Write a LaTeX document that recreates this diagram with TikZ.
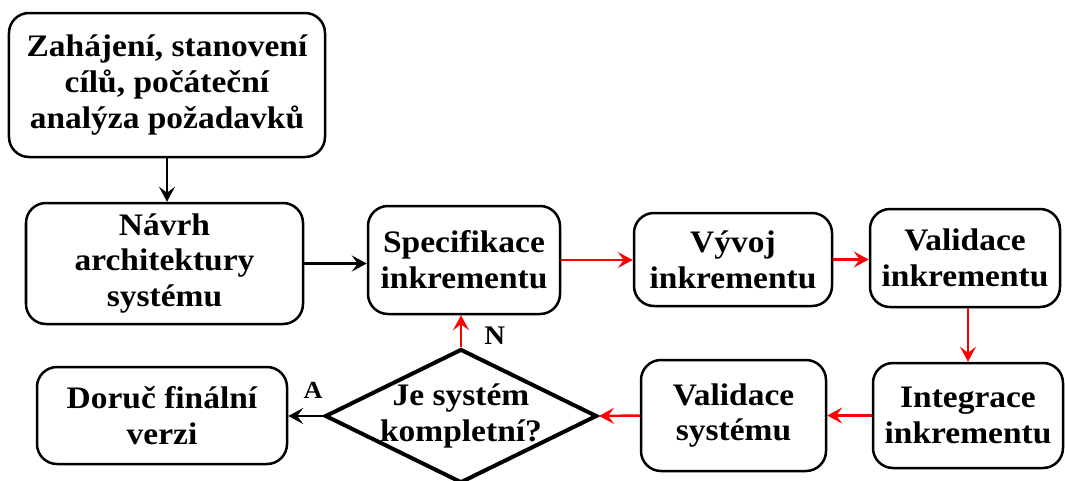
\documentclass[tikz,border=0pt]{standalone}
\usepackage{fontspec}
\setmainfont{Liberation Serif}[FakeStretch=1.07]
\usetikzlibrary{shapes.geometric}
\usetikzlibrary{arrows.meta}

\begin{document}
\begin{tikzpicture}[>={Stealth[length=0.3cm, width=0.32cm, inset=0.12cm]}, line width = 0.05cm,
	krok/.style = {draw, rounded corners = 0.4cm, align = center, inner sep = 0pt,
		font = \fontsize{17.8}{20.4}\selectfont\bfseries},
	rozhod/.style = {draw, diamond, line width = 0.08cm, align = center,
		inner xsep = -0.4cm, inner ysep = 0pt, shape aspect = 2.03,
		font = \fontsize{17.8}{20.4}\selectfont\bfseries},
	znacka/.style = {inner sep = 0.1cm, text = black, font = \fontsize{15.3}{18}\selectfont\bfseries}]
	%%%	Help Lines
%	\draw [thin, help lines] (0,0) grid (21.3,9.6);
	\useasboundingbox (0,0) rectangle (21.3,9.6);
	%%%	Kroky
	\node [krok, minimum width = 6.32cm, minimum height = 2.88cm] (start) at (3.34, 7.90)
		{Zahájení, stanovení\\cílů, počáteční\\analýza požadavků};
	\node [krok, minimum width = 5.54cm, minimum height = 2.42cm] (arch) at (3.29, 4.33)
		{Návrh\\architektury\\systému};
	\node [krok, minimum width = 3.84cm, minimum height = 2.16cm] (spec) at (9.28, 4.40)
		{Specifikace\\inkrementu};
	\node [krok, minimum width = 3.96cm, minimum height = 1.86cm] (vyvoj) at (14.66, 4.41)
		{Vývoj\\inkrementu};
	\node [krok, minimum width = 3.80cm, minimum height = 1.96cm] (valinc) at (19.30, 4.44)
		{Validace\\inkrementu};
	\node [krok, minimum width = 3.80cm, minimum height = 2.10cm] (integ) at (19.36, 1.29)
		{Integrace\\inkrementu};
	\node [krok, minimum width = 3.70cm, minimum height = 2.22cm] (valsys) at (14.67, 1.29)
		{Validace\\systému};
	\node [rozhod, minimum width = 5.44cm, minimum height = 2.68cm] (check) at (9.22, 1.28)
		{Je systém\\kompletní?};
	\node [krok, minimum width = 5.00cm, minimum height = 1.94cm] (dodat) at (3.24, 1.29)
		{Doruč finální\\verzi};
	%%%	Sipky
	\draw[->] (start.south) -- (start.south |- arch.north);
	\draw[->] (arch.east) -- (spec.west |- arch.east);
	\draw[->, red] (spec.east) -- (vyvoj.west |- spec.east);
	\draw[->, red] (vyvoj.east) -- (valinc.west |- vyvoj.east);
	\draw[->, red] (integ.north |- valinc.south) -- (integ.north);
	\draw[->, red] (integ.west) -- (valsys.east |- integ.west);
	\draw[->, red] (valsys.west) -- (check.east);
	\draw[->, red] (check.north) -- (check.north |- spec.south)
		node [pos = 0, above right, znacka, xshift = 0.34cm, yshift = -0.08cm] {N};
	\draw[->] (check.west) -- (dodat.east |- check.west)
		node [pos = 0, above left, znacka, font = \fontsize{14}{16}\selectfont\bfseries,
			xshift = 0.12cm, yshift = 0.22cm] {A};
\end{tikzpicture}
\end{document}
